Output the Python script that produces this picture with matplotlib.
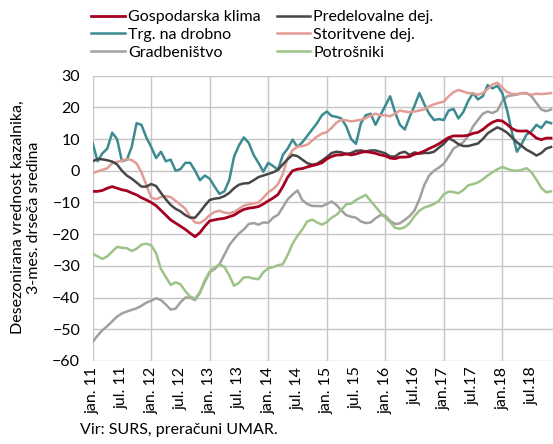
import matplotlib
matplotlib.use("Agg")
import matplotlib.pyplot as plt
import numpy as np

plt.rcParams['font.family'] = ['Lato', 'DejaVu Sans']

# monthly values, jan 2011 - nov 2018
gospodarska = [-6.5, -6.5, -6.2, -5.5, -5.0, -5.5, -6.0, -6.3, -7.0, -7.6,
               -8.5, -9.2, -10.0, -11.0, -12.5, -14.0, -15.5, -16.5, -17.5, -18.5,
               -19.7, -20.8, -19.5, -17.5, -15.8, -15.5, -15.2, -15.0, -14.5, -14.0,
               -13.0, -12.2, -11.8, -11.6, -11.3, -10.5, -9.5, -8.6, -7.5, -5.0,
               -2.0, 0.0, 0.5, 0.7, 1.2, 1.6, 2.0, 2.5, 3.7, 4.5,
               5.0, 5.0, 5.3, 5.0, 5.3, 5.8, 6.0, 5.8, 5.5, 5.0,
               4.7, 4.0, 3.8, 4.3, 4.3, 4.5, 5.2, 5.6, 6.2, 7.0,
               7.7, 8.5, 9.5, 10.5, 11.0, 11.0, 11.0, 11.2, 11.8, 12.1,
               13.0, 14.3, 15.3, 15.9, 15.7, 14.6, 13.3, 12.6, 12.5, 12.6,
               11.6, 10.3, 9.8, 10.3, 10.3]
predelovalne = [3.0, 3.7, 3.6, 3.3, 2.9, 2.0, 0.0, -1.5, -2.5, -3.7,
                -5.0, -5.0, -4.2, -4.8, -7.0, -9.0, -10.8, -12.0, -12.8, -14.0,
                -14.8, -14.8, -13.0, -11.0, -9.2, -8.8, -8.6, -8.0, -7.0, -5.5,
                -4.4, -4.0, -3.9, -3.0, -2.0, -1.5, -1.0, -0.5, 0.3, 2.0,
                3.7, 5.0, 4.6, 3.5, 2.4, 1.9, 2.2, 3.2, 4.3, 5.6,
                6.0, 5.8, 5.3, 5.6, 6.3, 6.4, 6.1, 6.4, 6.4, 6.0,
                5.5, 4.5, 4.5, 5.6, 6.0, 5.0, 5.8, 5.4, 5.6, 5.6,
                6.0, 7.3, 8.5, 10.2, 9.5, 8.4, 7.8, 7.8, 8.2, 8.6,
                10.0, 11.8, 12.8, 13.7, 13.0, 12.0, 10.5, 9.0, 7.8, 6.6,
                5.8, 4.8, 5.6, 7.0, 7.5]
trgovina = [8.7, 3.0, 5.5, 7.0, 12.0, 10.0, 3.0, 3.5, 7.5, 15.0,
            14.5, 10.5, 7.5, 4.0, 6.0, 3.0, 3.5, 0.0, 0.5, 2.5,
            2.5, 0.0, -3.0, -1.5, -2.5, -5.0, -7.3, -6.5, -3.0, 4.5,
            8.0, 10.5, 8.8, 5.0, 2.5, -0.3, 2.5, 1.5, 0.3, 5.0,
            7.0, 9.8, 7.5, 9.0, 11.0, 13.0, 15.0, 17.5, 18.7, 17.3,
            17.0, 16.5, 14.0, 10.0, 8.5, 15.0, 17.5, 18.0, 14.5, 17.5,
            20.5, 23.5, 18.5, 14.5, 13.0, 17.0, 20.5, 24.5, 21.0, 18.0,
            16.0, 16.3, 16.0, 19.0, 19.5, 16.5, 18.5, 22.0, 24.5, 22.5,
            23.5, 27.0, 26.0, 26.8, 24.5, 19.0, 12.0, 6.0, 8.5, 11.5,
            12.5, 14.5, 13.5, 15.5, 15.0]
storitvene = [-0.7, -0.2, 0.3, 0.8, 2.4, 2.8, 3.2, 3.7, 3.4, 2.3,
              -0.5, -4.5, -8.5, -9.0, -8.3, -8.0, -8.3, -9.5, -10.7, -12.0,
              -14.5, -16.3, -16.5, -15.5, -14.0, -13.0, -12.6, -13.2, -13.4, -13.0,
              -12.0, -11.0, -10.6, -10.3, -10.0, -8.5, -6.8, -5.8, -4.2, -1.0,
              4.0, 6.5, 7.6, 7.8, 8.2, 9.5, 10.8, 11.7, 12.2, 13.5,
              15.2, 16.1, 15.9, 15.6, 15.8, 16.1, 16.6, 17.4, 18.0, 17.5,
              17.5, 17.2, 18.0, 19.0, 18.7, 18.5, 18.7, 19.0, 19.4, 20.3,
              21.0, 21.4, 21.8, 23.5, 24.8, 25.5, 25.0, 24.5, 24.4, 24.0,
              24.5, 25.8, 27.2, 27.8, 26.2, 24.8, 24.2, 24.2, 24.4, 24.3,
              24.0, 24.3, 24.2, 24.3, 24.5]
gradbenistvo = [-54.0, -52.0, -50.3, -49.0, -47.5, -46.0, -45.0, -44.4, -43.9, -43.4,
                -42.6, -41.6, -41.0, -40.2, -40.8, -42.2, -43.8, -43.5, -41.5, -40.0,
                -40.0, -40.8, -38.5, -35.0, -32.0, -31.0, -29.5, -26.5, -23.5, -21.5,
                -19.8, -18.5, -16.8, -16.5, -17.0, -16.3, -16.4, -14.8, -13.9, -11.5,
                -9.0, -7.5, -6.2, -9.3, -10.5, -11.1, -11.1, -11.2, -10.5, -9.7,
                -10.8, -12.5, -14.0, -14.5, -14.8, -16.0, -16.5, -16.3, -15.0, -14.0,
                -14.2, -15.8, -16.8, -16.6, -15.5, -14.3, -12.5, -9.0, -4.5, -1.5,
                0.0, 1.0, 2.2, 4.5, 7.0, 7.9, 9.0, 11.0, 14.0, 16.0,
                18.0, 18.7, 18.2, 19.0, 22.0, 23.5, 23.8, 24.0, 24.5, 24.5,
                23.5, 21.4, 19.3, 18.8, 19.3]
potrosniki = [-26.2, -27.0, -27.8, -27.0, -25.5, -24.0, -24.3, -24.4, -25.3, -24.6,
              -23.3, -23.0, -23.5, -26.0, -31.0, -33.5, -36.0, -35.2, -35.8, -38.0,
              -39.7, -40.3, -38.2, -34.5, -31.8, -30.5, -29.5, -30.3, -33.0, -36.3,
              -35.3, -33.6, -33.6, -34.0, -34.2, -32.0, -30.8, -30.4, -29.8, -29.5,
              -26.5, -23.0, -20.5, -18.5, -16.0, -15.4, -16.3, -17.0, -16.2, -14.8,
              -13.9, -12.3, -10.6, -10.4, -9.2, -8.4, -7.6, -9.5, -11.3, -13.2,
              -14.8, -16.2, -18.0, -18.3, -17.8, -16.5, -14.3, -12.6, -11.6, -11.1,
              -10.5, -9.5, -7.4, -6.6, -6.7, -7.1, -6.1, -4.6, -4.2, -3.7,
              -2.7, -1.5, -0.5, 0.5, 1.2, 0.6, 0.1, 0.0, 0.3, 0.8,
              -0.5, -2.8, -5.4, -6.8, -6.5]

tick_labels = ['jan. 11', 'jul. 11', 'jan. 12', 'jul. 12', 'jan. 13', 'jul. 13',
               'jan. 14', 'jul. 14', 'jan. 15', 'jul. 15', 'jan. 16', 'jul.16',
               'jan.17', 'jul.17', 'jan.18', 'jul.18']

months = np.arange(len(gospodarska))
fs = 11.5

fig = plt.figure(figsize=(5.53, 4.44), dpi=100)
ax = fig.add_axes([0.1676, 0.187, 0.8324, 0.6426])

grid_c = '#c6c6c6'
for yv in range(-60, 31, 10):
    ax.axhline(yv, color=grid_c, lw=1.0, zorder=0)
for xv in range(0, 95, 12):
    ax.axvline(xv, color=grid_c, lw=1.0, zorder=0)

series = [
    ('Gospodarska klima', gospodarska, '#a50021', 2.0),
    ('Trg. na drobno', trgovina, '#3b8b91', 1.8),
    ('Gradbeništvo', gradbenistvo, '#a0a0a0', 1.8),
    ('Predelovalne dej.', predelovalne, '#474747', 1.8),
    ('Storitvene dej.', storitvene, '#e29c96', 1.8),
    ('Potrošniki', potrosniki, '#9dc488', 1.8),
]
zorders = {'Gospodarska klima': 6, 'Predelovalne dej.': 5, 'Trg. na drobno': 3,
           'Storitvene dej.': 4, 'Gradbeništvo': 2, 'Potrošniki': 2}
handles = []
for name, vals, col, lw in series:
    h, = ax.plot(months, vals, color=col, lw=lw, label=name, zorder=zorders[name],
                 solid_joinstyle='round')
    handles.append(h)

ax.set_xlim(0, 94.4)
ax.set_ylim(-60, 30)
ax.set_yticks(range(-60, 31, 10))
ax.set_xticks(range(0, 91, 6))
ax.set_xticklabels(tick_labels, rotation=90)
ax.tick_params(axis='both', length=0, labelsize=fs, colors='black')
ax.tick_params(axis='y', pad=9)
ax.tick_params(axis='x', pad=4)
for s in ax.spines.values():
    s.set_visible(False)

fig.legend(handles=handles, loc='upper left', bbox_to_anchor=(0.142, 1.006),
           ncol=2, frameon=False, fontsize=fs, handlelength=2.1,
           handletextpad=0.2, columnspacing=1.0, labelspacing=0.22,
           borderpad=0.3)

fig.text(0.047, 0.51, 'Desezonirana vrednost kazalnika,\n3-mes. drseča sredina',
         rotation=90, ha='center', va='center', multialignment='center',
         fontsize=fs, linespacing=1.15)
fig.text(80 / 553, 1 - 430 / 444, 'Vir: SURS, preračuni UMAR.', ha='left',
         va='center', fontsize=fs)

fig.savefig('out.png', dpi=100)
